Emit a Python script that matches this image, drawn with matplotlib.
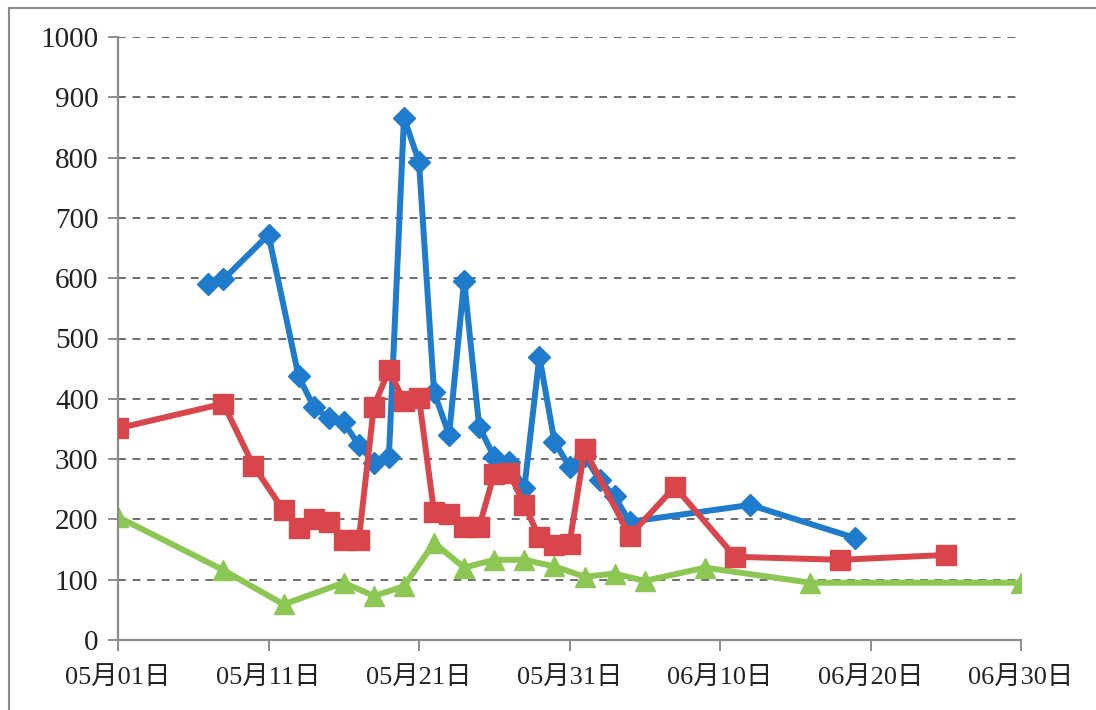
import matplotlib
matplotlib.use("Agg")
import matplotlib.pyplot as plt
import matplotlib.dates as mdates
from matplotlib.lines import Line2D
import pandas as pd

YEAR = 2013

blue_dates = ["05-07", "05-08", "05-11", "05-13", "05-14", "05-15", "05-16", "05-17",
              "05-18", "05-19", "05-20", "05-21", "05-22", "05-23", "05-24", "05-25",
              "05-26", "05-27", "05-28", "05-29", "05-30", "05-31", "06-01", "06-02",
              "06-03", "06-04", "06-12", "06-19"]
blue_values = [590, 598, 672, 437, 387, 368, 361, 323,
               294, 304, 866, 793, 411, 340, 596, 354,
               303, 296, 252, 470, 329, 287, 305, 265,
               238, 196, 224, 169]

red_dates = ["05-01", "05-08", "05-10", "05-12", "05-13", "05-14", "05-15", "05-16",
             "05-17", "05-18", "05-19", "05-20", "05-21", "05-22", "05-23", "05-24",
             "05-25", "05-26", "05-27", "05-28", "05-29", "05-30", "05-31", "06-01",
             "06-04", "06-07", "06-11", "06-18", "06-25"]
red_values = [351, 392, 289, 215, 186, 201, 195, 166,
              166, 387, 448, 396, 401, 212, 209, 188,
              188, 276, 277, 224, 170, 158, 160, 316,
              173, 254, 138, 133, 141]

green_dates = ["05-01", "05-08", "05-12", "05-16", "05-18", "05-20", "05-22", "05-24",
               "05-26", "05-28", "05-30", "06-01", "06-03", "06-05", "06-09", "06-16",
               "06-30"]
green_values = [204, 116, 59, 95, 73, 89, 161, 120,
                133, 133, 122, 105, 110, 98, 120, 95,
                95]

x_ticks = ["05-01", "05-11", "05-21", "05-31", "06-10", "06-20", "06-30"]
y_ticks = list(range(0, 1001, 100))


def to_dt(lst):
    return pd.to_datetime([f"{YEAR}-{d}" for d in lst])


plt.rcParams['font.family'] = ['Liberation Serif', 'Noto Sans CJK JP']

fig = plt.figure(figsize=(10.96, 7.10), dpi=100)
ax = fig.add_axes([118 / 1096, 70 / 710, (1021 - 118) / 1096, (640 - 37) / 710])

ax.plot(to_dt(blue_dates), blue_values, color='#1f7bcb', lw=4.3, marker='D',
        ms=11, zorder=3, solid_joinstyle='round')
ax.plot(to_dt(red_dates), red_values, color='#d8464c', lw=4.3, marker='s',
        ms=14, zorder=4, solid_joinstyle='round')
ax.plot(to_dt(green_dates), green_values, color='#8cc653', lw=4.3, marker='^',
        ms=14, zorder=2, solid_joinstyle='round')

ax.set_xlim(pd.Timestamp(f"{YEAR}-05-01"), pd.Timestamp(f"{YEAR}-06-30"))
ax.set_ylim(0, 1000)
ax.set_yticks(y_ticks)
ax.set_xticks(to_dt(x_ticks))
ax.xaxis.set_major_formatter(mdates.DateFormatter('%m月%d日'))

ax.grid(axis='y', linestyle=(0, (4, 3.5)), color='#6e6e6e', lw=1.4)
ax.set_axisbelow(True)
for s in ['top', 'right']:
    ax.spines[s].set_visible(False)
for s in ['left', 'bottom']:
    ax.spines[s].set_color('#8c8c8c')
    ax.spines[s].set_linewidth(1.6)

ax.tick_params(axis='y', labelsize=21, length=7, width=1.4, color='#8c8c8c',
               pad=7, labelcolor='#222222')
ax.tick_params(axis='x', labelsize=19, length=8, width=1.4, color='#8c8c8c',
               pad=11, labelcolor='#222222')

# outer frame of the chart area
fig.add_artist(Line2D([9 / 1096, 9 / 1096], [0, 1 - 8 / 710], color='#8c8c8c', lw=1.5,
                      transform=fig.transFigure))
fig.add_artist(Line2D([9 / 1096, 1], [1 - 8 / 710, 1 - 8 / 710], color='#8c8c8c', lw=1.5,
                      transform=fig.transFigure))

fig.savefig("out.png", dpi=100)
